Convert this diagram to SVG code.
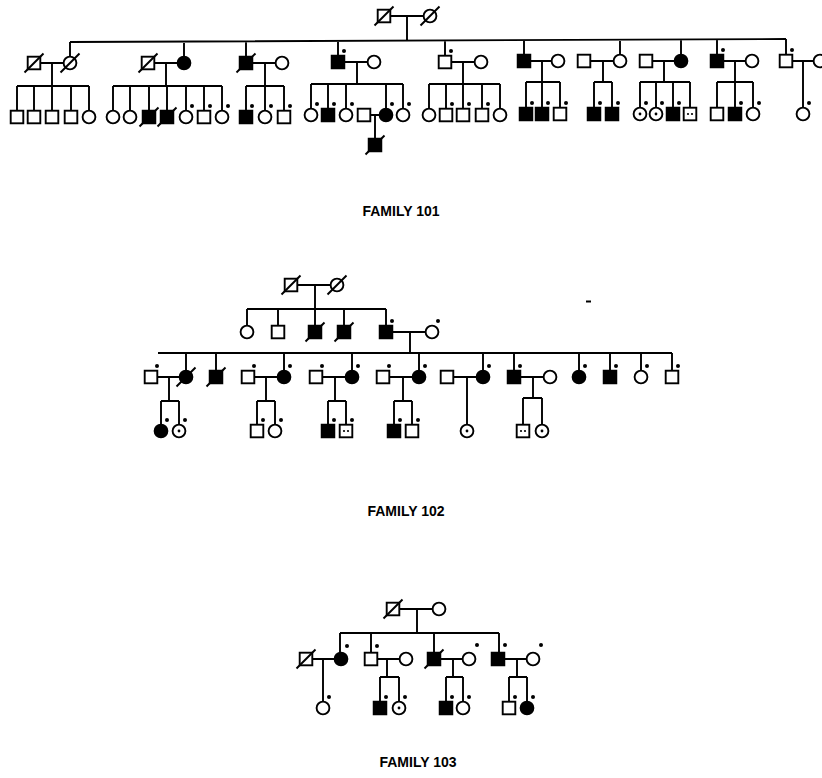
<svg xmlns="http://www.w3.org/2000/svg" xmlns:xlink="http://www.w3.org/1999/xlink" width="822" height="778" viewBox="0 0 822 778">
<style>
.l{stroke:#000;stroke-width:1.9;fill:none}
.o{fill:#fff;stroke:#000;stroke-width:1.9}
.f{fill:#000;stroke:#000;stroke-width:1.9}
.d{fill:#000}
.t{font-family:"Liberation Sans",Arial,sans-serif;font-weight:bold;font-size:14px;fill:#000;text-anchor:middle}
</style>
<defs>
<rect id="S" x="-6.3" y="-6.3" width="12.6" height="12.6"/>
<circle id="C" r="6.4"/>
<line id="X" x1="-9.5" y1="9.5" x2="9.5" y2="-9.5"/>
<circle id="D" cx="6" cy="-11" r="2"/>
<circle id="I" r="1.4"/>
<g id="J"><circle cx="-2" cy="0" r="1.1"/><circle cx="2" cy="0" r="1.1"/></g>
</defs>
<rect width="822" height="778" fill="#fff"/>

<!-- FAMILY 101 connectors -->
<g id="f101-connectors">
<path class="l" d="M390 16H424M407 16V40.6M70 42L786 39
M70 42V56.7M184 41.5V56.7M246 41.3V57M338 40.9V56M445 40.4V56M524 40.1V55M620 39.7V54.7M681 39.4V54.7M717 39.3V55M786 39V55
M40 63H64M52 63V86M17 86H89M17 86V111M34 86V111M52 86V111M71 86V111M89 86V110.7
M154 63H178M166 63V86M113 86H222M113 86V110.7M130 86V110.7M149 86V111M167 86V111M186 86V110.7M204 86V111M222 86V110.7
M252 63H276M265 63V86M246 86H284M246 86V111M265 86V110.7M284 86V111
M344 62H368M357 62V84M311 84H403M311 84V108.7M328 84V109M346 84V108.7M386 84V108.7M403 84V108.7M370 115H380M375 115V139
M451 62H475M463 62V109M429 84H500M429 84V108.7M446 84V109M482 84V109M500 84V108.7
M530 61H552M542 61V108M526 82H560M526 82V108M560 82V108
M590 61H614M603 61V82M594 82H612M594 82V108M612 82V108
M652 61H675M664 61V82M640 82H690M640 82V107.7M656 82V107.7M673 82V108M690 82V108
M723 61H746M735 61V108M717 82H753M717 82V108M753 82V107.7
M792 61H814M803 61V107.7"/>
</g>
<!-- FAMILY 101 nodes -->
<g id="f101-I-1"><use href="#S" class="o" x="384" y="16"/><use href="#X" class="l" x="384" y="16"/></g>
<g id="f101-I-2"><use href="#C" class="o" x="430" y="16"/><use href="#X" class="l" x="430" y="16"/></g>
<g id="f101-II-1"><use href="#S" class="o" x="34" y="63"/><use href="#X" class="l" x="34" y="63"/></g>
<g id="f101-II-2"><use href="#C" class="o" x="70" y="63"/><use href="#X" class="l" x="70" y="63"/></g>
<g id="f101-II-3"><use href="#S" class="o" x="148" y="63"/><use href="#X" class="l" x="148" y="63"/></g>
<g id="f101-II-4"><use href="#C" class="f" x="184" y="63"/></g>
<g id="f101-II-5"><use href="#S" class="f" x="246" y="63"/><use href="#X" class="l" x="246" y="63"/></g>
<g id="f101-II-6"><use href="#C" class="o" x="282" y="63"/></g>
<g id="f101-II-7"><use href="#S" class="f" x="338" y="62"/><use href="#D" class="d" x="338" y="62"/></g>
<g id="f101-II-8"><use href="#C" class="o" x="374" y="62"/></g>
<g id="f101-II-9"><use href="#S" class="o" x="445" y="62"/><use href="#D" class="d" x="445" y="62"/></g>
<g id="f101-II-10"><use href="#C" class="o" x="481" y="62"/></g>
<g id="f101-II-11"><use href="#S" class="f" x="524" y="61"/></g>
<g id="f101-II-12"><use href="#C" class="o" x="558" y="61"/></g>
<g id="f101-II-13"><use href="#S" class="o" x="584" y="61"/></g>
<g id="f101-II-14"><use href="#C" class="o" x="620" y="61"/></g>
<g id="f101-II-15"><use href="#S" class="o" x="646" y="61"/></g>
<g id="f101-II-16"><use href="#C" class="f" x="681" y="61"/></g>
<g id="f101-II-17"><use href="#S" class="f" x="717" y="61"/><use href="#D" class="d" x="717" y="61"/></g>
<g id="f101-II-18"><use href="#C" class="o" x="752" y="61"/></g>
<g id="f101-II-19"><use href="#S" class="o" x="786" y="61"/><use href="#D" class="d" x="786" y="61"/></g>
<g id="f101-II-20"><use href="#C" class="o" x="820" y="61"/></g>
<g id="f101-III-1"><use href="#S" class="o" x="17" y="117"/></g>
<g id="f101-III-2"><use href="#S" class="o" x="34" y="117"/></g>
<g id="f101-III-3"><use href="#S" class="o" x="52" y="117"/></g>
<g id="f101-III-4"><use href="#S" class="o" x="71" y="117"/></g>
<g id="f101-III-5"><use href="#C" class="o" x="89" y="117"/></g>
<g id="f101-III-6"><use href="#C" class="o" x="113" y="117"/></g>
<g id="f101-III-7"><use href="#C" class="o" x="130" y="117"/></g>
<g id="f101-III-8"><use href="#S" class="f" x="149" y="117"/><use href="#X" class="l" x="149" y="117"/></g>
<g id="f101-III-9"><use href="#S" class="f" x="167" y="117"/><use href="#X" class="l" x="167" y="117"/></g>
<g id="f101-III-10"><use href="#C" class="o" x="186" y="117"/><use href="#D" class="d" x="186" y="117"/></g>
<g id="f101-III-11"><use href="#S" class="o" x="204" y="117"/><use href="#D" class="d" x="204" y="117"/></g>
<g id="f101-III-12"><use href="#C" class="o" x="222" y="117"/><use href="#D" class="d" x="222" y="117"/></g>
<g id="f101-III-13"><use href="#S" class="f" x="246" y="117"/><use href="#D" class="d" x="246" y="117"/></g>
<g id="f101-III-14"><use href="#C" class="o" x="265" y="117"/><use href="#D" class="d" x="265" y="117"/></g>
<g id="f101-III-15"><use href="#S" class="o" x="284" y="117"/><use href="#D" class="d" x="284" y="117"/></g>
<g id="f101-III-16"><use href="#C" class="o" x="311" y="115"/><use href="#D" class="d" x="311" y="115"/></g>
<g id="f101-III-17"><use href="#S" class="f" x="328" y="115"/><use href="#D" class="d" x="328" y="115"/></g>
<g id="f101-III-18"><use href="#C" class="o" x="346" y="115"/><use href="#D" class="d" x="346" y="115"/></g>
<g id="f101-III-19"><use href="#S" class="o" x="364" y="115"/></g>
<g id="f101-III-20"><use href="#C" class="f" x="386" y="115"/><use href="#D" class="d" x="386" y="115"/></g>
<g id="f101-III-21"><use href="#C" class="o" x="403" y="115"/><use href="#D" class="d" x="403" y="115"/></g>
<g id="f101-III-22"><use href="#C" class="o" x="429" y="115"/></g>
<g id="f101-III-23"><use href="#S" class="o" x="446" y="115"/><use href="#D" class="d" x="446" y="115"/></g>
<g id="f101-III-24"><use href="#S" class="o" x="463" y="115"/><use href="#D" class="d" x="463" y="115"/></g>
<g id="f101-III-25"><use href="#S" class="o" x="482" y="115"/><use href="#D" class="d" x="482" y="115"/></g>
<g id="f101-III-26"><use href="#C" class="o" x="500" y="115"/></g>
<g id="f101-III-27"><use href="#S" class="f" x="526" y="114"/><use href="#D" class="d" x="526" y="114"/></g>
<g id="f101-III-28"><use href="#S" class="f" x="542" y="114"/><use href="#D" class="d" x="542" y="114"/></g>
<g id="f101-III-29"><use href="#S" class="o" x="560" y="114"/><use href="#D" class="d" x="560" y="114"/></g>
<g id="f101-III-30"><use href="#S" class="f" x="594" y="114"/><use href="#D" class="d" x="594" y="114"/></g>
<g id="f101-III-31"><use href="#S" class="f" x="612" y="114"/><use href="#D" class="d" x="612" y="114"/></g>
<g id="f101-III-32"><use href="#C" class="o" x="640" y="114"/><use href="#I" class="d" x="640" y="114"/><use href="#D" class="d" x="640" y="114"/></g>
<g id="f101-III-33"><use href="#C" class="o" x="656" y="114"/><use href="#I" class="d" x="656" y="114"/><use href="#D" class="d" x="656" y="114"/></g>
<g id="f101-III-34"><use href="#S" class="f" x="673" y="114"/><use href="#D" class="d" x="673" y="114"/></g>
<g id="f101-III-35"><use href="#S" class="o" x="690" y="114"/><use href="#J" class="d" x="690" y="114"/></g>
<g id="f101-III-36"><use href="#S" class="o" x="717" y="114"/></g>
<g id="f101-III-37"><use href="#S" class="f" x="735" y="114"/><use href="#D" class="d" x="735" y="114"/></g>
<g id="f101-III-38"><use href="#C" class="o" x="753" y="114"/><use href="#D" class="d" x="753" y="114"/></g>
<g id="f101-III-39"><use href="#C" class="o" x="803" y="114"/><use href="#D" class="d" x="803" y="114"/></g>
<g id="f101-IV-1"><use href="#S" class="f" x="375" y="145"/><use href="#X" class="l" x="375" y="145"/></g>
<text class="t" x="401" y="216">FAMILY 101</text>

<!-- FAMILY 102 connectors -->
<g id="f102-connectors">
<path class="l" d="M297 285H331M315 285V309M247 309H386M247 309V325.7M278 309V326M315 309V326M344 309V326M386 309V326M392 332H426M410 332V353M158 353H672
M186 353V370.7M216 353V371M284 353V370.7M352 353V370.7M419 353V370.7M483 353V370.7M514 353V371M579 353V370.7M610 353V371M641 353V370.7M672 353V371
M157 377H180M169 377V401M161 401H179M161 401V424.7M179 401V424.7
M254 377H278M266 377V401M257 401H275M257 401V425M275 401V424.7
M322 377H346M335 377V401M328 401H346M328 401V425M346 401V425
M389 377H413M403 377V401M394 401H412M394 401V425M412 401V425
M453 377H477M467 377V424.7
M520 377H544M533 377V398M523 398H542M523 398V425M542 398V424.7"/>
<path d="M586 301.5H591" stroke="#000" stroke-width="2"/>
</g>
<!-- FAMILY 102 nodes -->
<g id="f102-I-1"><use href="#S" class="o" x="291" y="285"/><use href="#X" class="l" x="291" y="285"/></g>
<g id="f102-I-2"><use href="#C" class="o" x="337" y="285"/><use href="#X" class="l" x="337" y="285"/></g>
<g id="f102-II-1"><use href="#C" class="o" x="247" y="332"/></g>
<g id="f102-II-2"><use href="#S" class="o" x="278" y="332"/></g>
<g id="f102-II-3"><use href="#S" class="f" x="315" y="332"/><use href="#X" class="l" x="315" y="332"/></g>
<g id="f102-II-4"><use href="#S" class="f" x="344" y="332"/><use href="#X" class="l" x="344" y="332"/></g>
<g id="f102-II-5"><use href="#S" class="f" x="386" y="332"/><use href="#D" class="d" x="386" y="332"/></g>
<g id="f102-II-6"><use href="#C" class="o" x="432" y="332"/><use href="#D" class="d" x="432" y="332"/></g>
<g id="f102-III-1"><use href="#S" class="o" x="151" y="377"/><use href="#D" class="d" x="151" y="377"/></g>
<g id="f102-III-2"><use href="#C" class="f" x="186" y="377"/><use href="#X" class="l" x="186" y="377"/></g>
<g id="f102-III-3"><use href="#S" class="f" x="216" y="377"/><use href="#X" class="l" x="216" y="377"/></g>
<g id="f102-III-4"><use href="#S" class="o" x="248" y="377"/><use href="#D" class="d" x="248" y="377"/></g>
<g id="f102-III-5"><use href="#C" class="f" x="284" y="377"/><use href="#D" class="d" x="284" y="377"/></g>
<g id="f102-III-6"><use href="#S" class="o" x="316" y="377"/><use href="#D" class="d" x="316" y="377"/></g>
<g id="f102-III-7"><use href="#C" class="f" x="352" y="377"/><use href="#D" class="d" x="352" y="377"/></g>
<g id="f102-III-8"><use href="#S" class="o" x="383" y="377"/><use href="#D" class="d" x="383" y="377"/></g>
<g id="f102-III-9"><use href="#C" class="f" x="419" y="377"/><use href="#D" class="d" x="419" y="377"/></g>
<g id="f102-III-10"><use href="#S" class="o" x="447" y="377"/></g>
<g id="f102-III-11"><use href="#C" class="f" x="483" y="377"/><use href="#D" class="d" x="483" y="377"/></g>
<g id="f102-III-12"><use href="#S" class="f" x="514" y="377"/><use href="#D" class="d" x="514" y="377"/></g>
<g id="f102-III-13"><use href="#C" class="o" x="550" y="377"/></g>
<g id="f102-III-14"><use href="#C" class="f" x="579" y="377"/><use href="#D" class="d" x="579" y="377"/></g>
<g id="f102-III-15"><use href="#S" class="f" x="610" y="377"/><use href="#D" class="d" x="610" y="377"/></g>
<g id="f102-III-16"><use href="#C" class="o" x="641" y="377"/><use href="#D" class="d" x="641" y="377"/></g>
<g id="f102-III-17"><use href="#S" class="o" x="672" y="377"/><use href="#D" class="d" x="672" y="377"/></g>
<g id="f102-IV-1"><use href="#C" class="f" x="161" y="431"/><use href="#D" class="d" x="161" y="431"/></g>
<g id="f102-IV-2"><use href="#C" class="o" x="179" y="431"/><use href="#I" class="d" x="179" y="431"/><use href="#D" class="d" x="179" y="431"/></g>
<g id="f102-IV-3"><use href="#S" class="o" x="257" y="431"/><use href="#D" class="d" x="257" y="431"/></g>
<g id="f102-IV-4"><use href="#C" class="o" x="275" y="431"/><use href="#D" class="d" x="275" y="431"/></g>
<g id="f102-IV-5"><use href="#S" class="f" x="328" y="431"/><use href="#D" class="d" x="328" y="431"/></g>
<g id="f102-IV-6"><use href="#S" class="o" x="346" y="431"/><use href="#J" class="d" x="346" y="431"/><use href="#D" class="d" x="346" y="431"/></g>
<g id="f102-IV-7"><use href="#S" class="f" x="394" y="431"/><use href="#D" class="d" x="394" y="431"/></g>
<g id="f102-IV-8"><use href="#S" class="o" x="412" y="431"/><use href="#D" class="d" x="412" y="431"/></g>
<g id="f102-IV-9"><use href="#C" class="o" x="467" y="431"/><use href="#I" class="d" x="467" y="431"/></g>
<g id="f102-IV-10"><use href="#S" class="o" x="523" y="431"/><use href="#J" class="d" x="523" y="431"/></g>
<g id="f102-IV-11"><use href="#C" class="o" x="542" y="431"/><use href="#I" class="d" x="542" y="431"/></g>
<text class="t" x="406" y="516">FAMILY 102</text>

<!-- FAMILY 103 connectors -->
<g id="f103-connectors">
<path class="l" d="M399 609H433M417 609V633M340 633H499M340 633V652.7M371 633V653M434 633V653M499 633V653
M312 659H335M323 659V701.7
M377 659H400M387 659V677M380 677H399M380 677V702M399 677V701.7
M440 659H463M453 659V677M446 677H463M446 677V702M463 677V701.7
M504 659H527M517 659V677M509 677H527M509 677V702M527 677V701.7"/>
</g>
<!-- FAMILY 103 nodes -->
<g id="f103-I-1"><use href="#S" class="o" x="393" y="609"/><use href="#X" class="l" x="393" y="609"/></g>
<g id="f103-I-2"><use href="#C" class="o" x="439" y="609"/></g>
<g id="f103-II-1"><use href="#S" class="o" x="306" y="659"/><use href="#X" class="l" x="306" y="659"/></g>
<g id="f103-II-2"><use href="#C" class="f" x="341" y="659"/><use href="#D" class="d" x="341" y="657"/></g>
<g id="f103-II-3"><use href="#S" class="o" x="371" y="659"/><use href="#D" class="d" x="371" y="657"/></g>
<g id="f103-II-4"><use href="#C" class="o" x="406" y="659"/></g>
<g id="f103-II-5"><use href="#S" class="f" x="434" y="659"/><use href="#X" class="l" x="434" y="659"/></g>
<g id="f103-II-6"><use href="#C" class="o" x="469" y="659"/><use href="#D" class="d" x="471" y="656"/></g>
<g id="f103-II-7"><use href="#S" class="f" x="498" y="659"/><use href="#D" class="d" x="499" y="656"/></g>
<g id="f103-II-8"><use href="#C" class="o" x="533" y="659"/><use href="#D" class="d" x="535" y="656"/></g>
<g id="f103-III-1"><use href="#C" class="o" x="323" y="708"/><use href="#D" class="d" x="323" y="708"/></g>
<g id="f103-III-2"><use href="#S" class="f" x="380" y="708"/><use href="#D" class="d" x="380" y="708"/></g>
<g id="f103-III-3"><use href="#C" class="o" x="399" y="708"/><use href="#I" class="d" x="399" y="708"/><use href="#D" class="d" x="399" y="708"/></g>
<g id="f103-III-4"><use href="#S" class="f" x="446" y="708"/><use href="#D" class="d" x="446" y="708"/></g>
<g id="f103-III-5"><use href="#C" class="o" x="463" y="708"/><use href="#D" class="d" x="463" y="708"/></g>
<g id="f103-III-6"><use href="#S" class="o" x="509" y="708"/><use href="#D" class="d" x="509" y="708"/></g>
<g id="f103-III-7"><use href="#C" class="f" x="527" y="708"/><use href="#D" class="d" x="527" y="708"/></g>
<text class="t" x="418" y="767">FAMILY 103</text>
</svg>
